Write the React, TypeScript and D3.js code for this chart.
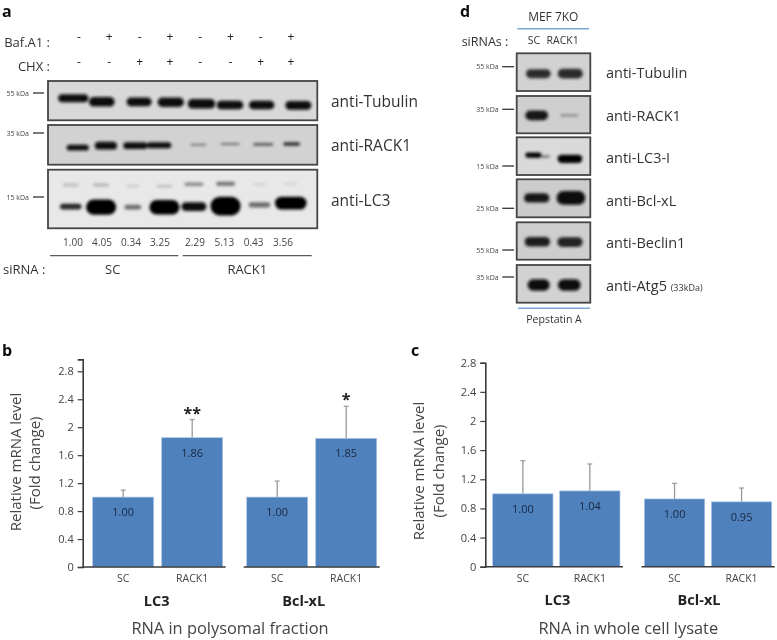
import React, { useEffect, useRef } from 'react';
import * as d3 from 'd3';

const FONT = '"Open Sans", "Noto Sans", sans-serif';

// panel a: treatments and densitometry
const bafA1 = ['-', '+', '-', '+', '-', '+', '-', '+'];
const chx = ['-', '-', '+', '+', '-', '-', '+', '+'];
const quant = ['1.00', '4.05', '0.34', '3.25', '2.29', '5.13', '0.43', '3.56'];

// band readings per lane: lane drift, migration (0-1 down the blot), width, thickness, darkness
const aTubulin = {
  drift: [0.05, -0.05, 0.13, 0.13, 0.1, 0, 0, 0.16],
  mig: [0.44, 0.53, 0.53, 0.54, 0.58, 0.61, 0.61, 0.62],
  wid: [0.95, 0.81, 0.79, 0.83, 0.87, 0.84, 0.8, 0.82],
  thick: [0.2, 0.24, 0.22, 0.24, 0.24, 0.22, 0.22, 0.22],
  dark: [0.98, 0.96, 0.96, 0.96, 0.98, 0.98, 0.98, 0.98],
};
const aRack1 = {
  drift: [0.19, 0.08, 0.01, -0.24, 0, 0, 0.05, -0.05],
  mig: [0.57, 0.52, 0.52, 0.51, 0.5, 0.48, 0.49, 0.48],
  wid: [0.7, 0.7, 0.76, 0.77, 0.5, 0.6, 0.63, 0.53],
  thick: [0.15, 0.2, 0.17, 0.15, 0.05, 0.05, 0.07, 0.09],
  dark: [0.95, 0.95, 0.95, 0.95, 0.45, 0.5, 0.6, 0.8],
};
const aLc3 = {
  drift: [-0.03, -0.07, -0.07, -0.07, -0.14, -0.14, -0.07, -0.08],
  mig: [0.63, 0.64, 0.64, 0.64, 0.63, 0.62, 0.6, 0.57],
  wid: [0.68, 0.95, 0.53, 0.95, 0.79, 0.95, 0.68, 1.0],
  thick: [0.1, 0.26, 0.08, 0.25, 0.15, 0.32, 0.09, 0.22],
  dark: [0.85, 1, 0.55, 1, 0.97, 1, 0.55, 1],
};
const aLc3Upper = {
  drift: [-0.03, -0.07, -0.07, -0.07, -0.14, -0.14, -0.07, -0.08],
  mig: [0.26, 0.26, 0.28, 0.28, 0.25, 0.24, 0.25, 0.24],
  wid: [0.5, 0.5, 0.4, 0.5, 0.6, 0.6, 0.4, 0.4],
  thick: [0.05, 0.05, 0.04, 0.05, 0.06, 0.07, 0.04, 0.04],
  dark: [0.2, 0.25, 0.14, 0.18, 0.42, 0.52, 0.12, 0.1],
};

// panel d
const dTubulin = { drift: [0.05, 0.03], mig: [0.54, 0.54], wid: [0.76, 0.77], thick: [0.24, 0.26], dark: [0.82, 0.82] };
const dRack1 = { drift: [0, 0.0], mig: [0.52, 0.52], wid: [0.7, 0.55], thick: [0.26, 0.05], dark: [0.92, 0.45] };
const dLc3 = { drift: [-0.1, 0.02], mig: [0.47, 0.57], wid: [0.5, 0.76], thick: [0.14, 0.22], dark: [1, 1] };
const dLc3Tail = { drift: [0.15, 0.02], mig: [0.51, 0.57], wid: [0.5, 0.2], thick: [0.05, 0.1], dark: [0.6, 1] };
const dBcl = { drift: [0, 0.05], mig: [0.49, 0.49], wid: [0.78, 0.88], thick: [0.24, 0.36], dark: [0.92, 0.98] };
const dBeclin = { drift: [0.02, 0.02], mig: [0.52, 0.53], wid: [0.78, 0.78], thick: [0.26, 0.26], dark: [0.88, 0.85] };
const dAtg5 = { drift: [0.06, 0], mig: [0.53, 0.53], wid: [0.68, 0.7], thick: [0.3, 0.3], dark: [0.96, 0.96] };

// bar panels
const genes = ['LC3', 'Bcl-xL'];
const sirnas = ['SC', 'RACK1'];
const yTicks = [0, 0.4, 0.8, 1.2, 1.6, 2, 2.4, 2.8];

const polysomalValues = [1.0, 1.85, 1.0, 1.84];
const polysomalErrors = [1.1, 2.11, 1.23, 2.3];
const polysomalLabels = ['1.00', '1.86', '1.00', '1.85'];
const polysomalStars = ['', '**', '', '*'];

const lysateValues = [1.0, 1.04, 0.93, 0.89];
const lysateErrors = [1.455, 1.41, 1.144, 1.08];
const lysateLabels = ['1.00', '1.04', '1.00', '0.95'];
const lysateStars = ['', '', '', ''];

const addText = (g, x, y, str, size, opts: any = {}) =>
  g
    .append('text')
    .attr('x', x)
    .attr('y', y)
    .attr('text-anchor', opts.anchor || 'start')
    .attr('font-size', size)
    .attr('font-family', FONT)
    .attr('font-weight', opts.weight || 'normal')
    .attr('fill', opts.fill || '#333')
    .text(str);

const drawBlot = (svg, box, laneRange, bg, layers) => {
  const [x0, x1, y0, y1] = box;
  const g = svg.append('g');
  g.append('rect')
    .attr('x', x0)
    .attr('y', y0)
    .attr('width', x1 - x0)
    .attr('height', y1 - y0)
    .attr('fill', bg);

  const n = layers[0].wid.length;
  const lane = d3.scalePoint().domain(d3.range(n).map(String)).range(laneRange);
  const step = laneRange[1] - laneRange[0];
  const laneStep = step / (n - 1);
  const yPos = d3.scaleLinear().domain([0, 1]).range([y0, y1]);
  const shade = d3.scaleLinear<string>().domain([0, 1]).range([bg, '#060606']);

  const bands = g.append('g').attr('filter', 'url(#bandBlur)');
  layers.forEach(l => {
    d3.range(n).forEach(i => {
      const w = l.wid[i] * laneStep;
      const h = l.thick[i] * (y1 - y0);
      bands
        .append('rect')
        .attr('x', lane(String(i)) + l.drift[i] * laneStep - w / 2)
        .attr('y', yPos(l.mig[i]) - h / 2)
        .attr('width', w)
        .attr('height', h)
        .attr('rx', Math.min(w, h) / 2)
        .attr('fill', shade(l.dark[i]));
    });
  });

  g.append('rect')
    .attr('x', x0)
    .attr('y', y0)
    .attr('width', x1 - x0)
    .attr('height', y1 - y0)
    .attr('fill', 'none')
    .attr('stroke', '#444')
    .attr('stroke-width', 1.8);
};

const mwMark = (svg, tx, lx0, lx1, y, label) => {
  addText(svg, tx, y + 2.5, label, 7, { anchor: 'end', fill: '#444' });
  svg.append('line').attr('x1', lx0).attr('x2', lx1).attr('y1', y).attr('y2', y).attr('stroke', '#333').attr('stroke-width', 1.3);
};

const drawBars = (svg, cfg) => {
  const y = d3.scaleLinear().domain([0, 2.8]).range([cfg.y0, cfg.y28]);
  const outer = d3.scaleBand().domain(genes).range(cfg.barRange).paddingInner(cfg.groupPad);
  const inner = d3.scaleBand().domain(sirnas).range([0, outer.bandwidth()]).paddingInner(cfg.barPad);
  const rows = genes.flatMap(gene => sirnas.map(s => ({ gene, s })));

  const axis = svg
    .append('g')
    .attr('transform', `translate(${cfg.axisX},0)`)
    .call(
      d3
        .axisLeft(y.copy().domain([0, cfg.top]).range([cfg.y0, y(cfg.top)]))
        .tickValues(yTicks)
        .tickFormat(d3.format('~g'))
        .tickSize(5)
        .tickPadding(4)
    );
  axis.select('.domain').attr('stroke', '#3a3a3a').attr('stroke-width', 1.6);
  axis.selectAll('.tick line').attr('stroke', '#3a3a3a').attr('stroke-width', 1.2);
  axis.selectAll('text').attr('font-size', 11).attr('font-family', FONT).attr('fill', '#444');

  rows.forEach((r, i) => {
    const x = outer(r.gene) + inner(r.s);
    const w = inner.bandwidth();
    const cx = x + w / 2;
    svg.append('line').attr('x1', cx).attr('x2', cx).attr('y1', y(cfg.values[i])).attr('y2', y(cfg.errors[i])).attr('stroke', '#999').attr('stroke-width', 1.3);
    svg.append('line').attr('x1', cx - 2.5).attr('x2', cx + 2.5).attr('y1', y(cfg.errors[i])).attr('y2', y(cfg.errors[i])).attr('stroke', '#999').attr('stroke-width', 1.2);
    svg
      .append('rect')
      .attr('x', x)
      .attr('y', y(cfg.values[i]))
      .attr('width', w)
      .attr('height', y(0) - y(cfg.values[i]))
      .attr('fill', '#4f81bd')
      .attr('stroke', '#a9c4e4')
      .attr('stroke-width', 0.7);
    addText(svg, cx, y(cfg.values[i]) + 19, cfg.labels[i], 11, { anchor: 'middle', fill: '#1a2740' });
    addText(svg, cx, cfg.y0 + 15, r.s, 10.5, { anchor: 'middle', fill: '#444' });
    if (cfg.stars[i]) addText(svg, cx, y(cfg.errors[i]) - 1, cfg.stars[i], 16, { anchor: 'middle', weight: 'bold', fill: '#222' });
  });

  genes.forEach((gene, i) => {
    const gx = outer(gene);
    const bw = outer.bandwidth();
    svg
      .append('line')
      .attr('x1', i === 0 ? cfg.axisX : gx - 3)
      .attr('x2', gx + bw + 3)
      .attr('y1', y(0))
      .attr('y2', y(0))
      .attr('stroke', '#3a3a3a')
      .attr('stroke-width', 1.6);
    addText(svg, gx + bw / 2 + cfg.geneShift[i], cfg.y0 + 38.5, gene, 14.5, { anchor: 'middle', weight: 'bold', fill: '#222' });
  });

  addText(svg, cfg.titleX, 634, cfg.title, 16.4, { anchor: 'middle', fill: '#444' });
  const yt = svg.append('g').attr('transform', `translate(${cfg.yTitleX},${cfg.yTitleY}) rotate(-90)`);
  addText(yt, 0, 0, 'Relative mRNA level', 15, { anchor: 'middle', fill: '#444' });
  addText(yt, cfg.yTitleShift, cfg.yTitleGap, '(Fold change)', 15, { anchor: 'middle', fill: '#444' });
};

const App = () => {
  const ref = useRef(null);

  useEffect(() => {
    const root = d3.select(ref.current);
    root.selectAll('*').remove();

    const defs = root.append('defs');
    defs
      .append('filter')
      .attr('id', 'bandBlur')
      .attr('x', '-20%')
      .attr('y', '-20%')
      .attr('width', '140%')
      .attr('height', '140%')
      .append('feGaussianBlur')
      .attr('stdDeviation', 1.5);
    // the source figure is a soft, upscaled scan
    defs
      .append('filter')
      .attr('id', 'soft')
      .attr('filterUnits', 'userSpaceOnUse')
      .attr('x', 0)
      .attr('y', 0)
      .attr('width', 777)
      .attr('height', 640)
      .append('feGaussianBlur')
      .attr('stdDeviation', 0.4);

    const svg = root.append('g').attr('filter', 'url(#soft)');

    // panel letters
    addText(svg, 2, 17.2, 'a', 16, { weight: 'bold', fill: '#111' });
    addText(svg, 2, 356, 'b', 16, { weight: 'bold', fill: '#111' });
    addText(svg, 411, 356, 'c', 16, { weight: 'bold', fill: '#111' });
    addText(svg, 460, 17.2, 'd', 16, { weight: 'bold', fill: '#111' });

    // panel a
    addText(svg, 50, 46.5, 'Baf.A1 :', 13, { anchor: 'end' });
    addText(svg, 50, 70.5, 'CHX :', 13, { anchor: 'end' });
    const signX = d3.scalePoint().domain(d3.range(8).map(String)).range([79, 291]);
    bafA1.forEach((s, i) => addText(svg, signX(String(i)), 41, s, 12, { anchor: 'middle', fill: '#222' }));
    chx.forEach((s, i) => addText(svg, signX(String(i)), 66, s, 12, { anchor: 'middle', fill: '#222' }));

    drawBlot(svg, [48, 317.3, 81, 120.3], [71.7, 293.3], '#d8d8d8', [aTubulin]);
    drawBlot(svg, [48, 317.3, 125, 164.7], [71.7, 293.3], '#d2d2d2', [aRack1]);
    drawBlot(svg, [48, 317.3, 169.7, 228.3], [71.7, 293.3], '#e8e8e8', [aLc3Upper, aLc3]);
    mwMark(svg, 29, 33, 44, 93, '55 kDa');
    mwMark(svg, 29, 33, 44, 133, '35 kDa');
    mwMark(svg, 29, 33, 44, 197, '15 kDa');
    addText(svg, 331, 107, 'anti-Tubulin', 15.5);
    addText(svg, 331, 151, 'anti-RACK1', 15.5);
    addText(svg, 331, 206, 'anti-LC3', 15.5);

    const quantX = d3.scalePoint().domain(d3.range(4).map(String)).range([73, 160]);
    const quantX2 = d3.scalePoint().domain(d3.range(4).map(String)).range([195, 283]);
    quant.forEach((q, i) =>
      addText(svg, i < 4 ? quantX(String(i)) : quantX2(String(i - 4)), 245.5, q, 10, { anchor: 'middle', fill: '#444' })
    );
    svg.append('line').attr('x1', 50).attr('x2', 178.3).attr('y1', 255.7).attr('y2', 255.7).attr('stroke', '#333').attr('stroke-width', 1);
    svg.append('line').attr('x1', 182.7).attr('x2', 311.7).attr('y1', 255.7).attr('y2', 255.7).attr('stroke', '#333').attr('stroke-width', 1);
    addText(svg, 3, 274, 'siRNA :', 13);
    addText(svg, 112.7, 274, 'SC', 13, { anchor: 'middle' });
    addText(svg, 247.3, 274, 'RACK1', 13, { anchor: 'middle' });

    // panel d
    addText(svg, 553.3, 20.7, 'MEF 7KO', 12, { anchor: 'middle' });
    svg.append('line').attr('x1', 517.3).attr('x2', 589).attr('y1', 28.7).attr('y2', 28.7).attr('stroke', '#7ba7d9').attr('stroke-width', 1.5);
    addText(svg, 508.3, 45.7, 'siRNAs :', 12.5, { anchor: 'end' });
    addText(svg, 534, 44, 'SC', 10.5, { anchor: 'middle' });
    addText(svg, 562.7, 44, 'RACK1', 10.5, { anchor: 'middle' });

    const dLanes: [number, number] = [536.7, 569.3];
    drawBlot(svg, [516.7, 590.3, 53.3, 91], dLanes, '#d2d2d2', [dTubulin]);
    drawBlot(svg, [516.7, 590.3, 96, 133.3], dLanes, '#cfcfcf', [dRack1]);
    drawBlot(svg, [516.7, 590.3, 137.3, 175], dLanes, '#dadada', [dLc3Tail, dLc3]);
    drawBlot(svg, [516.7, 590.3, 179.3, 217.3], dLanes, '#cccccc', [dBcl]);
    drawBlot(svg, [516.7, 590.3, 222.3, 259.7], dLanes, '#cecece', [dBeclin]);
    drawBlot(svg, [516.7, 590.3, 265, 302.7], dLanes, '#d2d2d2', [dAtg5]);
    mwMark(svg, 498.7, 502.3, 514, 66.7, '55 kDa');
    mwMark(svg, 498.7, 502.3, 514, 109.3, '35 kDa');
    mwMark(svg, 498.7, 502.3, 514, 166, '15 kDa');
    mwMark(svg, 498.7, 502.3, 514, 208.3, '25 kDa');
    mwMark(svg, 498.7, 502.3, 514, 250, '55 kDa');
    mwMark(svg, 498.7, 502.3, 514, 277, '35 kDa');
    addText(svg, 606, 78, 'anti-Tubulin', 14.5);
    addText(svg, 606, 120.5, 'anti-RACK1', 14.5);
    addText(svg, 606, 162.5, 'anti-LC3-I', 14.5);
    addText(svg, 606, 205.5, 'anti-Bcl-xL', 14.5);
    addText(svg, 606, 247.5, 'anti-Beclin1', 14.5);
    const atg = addText(svg, 606, 291, 'anti-Atg5 ', 14.5);
    atg.append('tspan').attr('font-size', 9).text(' (33kDa)');
    svg.append('line').attr('x1', 518).attr('x2', 590).attr('y1', 308.3).attr('y2', 308.3).attr('stroke', '#7ba7d9').attr('stroke-width', 1.5);
    addText(svg, 554, 322.7, 'Pepstatin A', 10.5, { anchor: 'middle' });

    // panels b and c
    drawBars(svg, {
      axisX: 82.7,
      y0: 567,
      y28: 371.3,
      top: 2.97,
      barRange: [92.7, 376.7],
      groupPad: 0.156,
      barPad: 0.116,
      values: polysomalValues,
      errors: polysomalErrors,
      labels: polysomalLabels,
      stars: polysomalStars,
      geneShift: [-1, -8],
      title: 'RNA in polysomal fraction',
      titleX: 230,
      yTitleX: 21,
      yTitleY: 462,
      yTitleShift: -1,
      yTitleGap: 18.5,
    });
    drawBars(svg, {
      axisX: 485.3,
      y0: 566.7,
      y28: 362.7,
      top: 2.8,
      barRange: [492.7, 771.7],
      groupPad: 0.161,
      barPad: 0.1,
      values: lysateValues,
      errors: lysateErrors,
      labels: lysateLabels,
      stars: lysateStars,
      geneShift: [1, -9],
      title: 'RNA in whole cell lysate',
      titleX: 628.3,
      yTitleX: 424,
      yTitleY: 471,
      yTitleShift: 0,
      yTitleGap: 20,
    });
  }, []);

  return (
    <svg
      ref={ref}
      width={777}
      height={640}
      style={{ position: 'absolute', left: 0, top: 0, background: '#fff' }}
    />
  );
};

export default App;
